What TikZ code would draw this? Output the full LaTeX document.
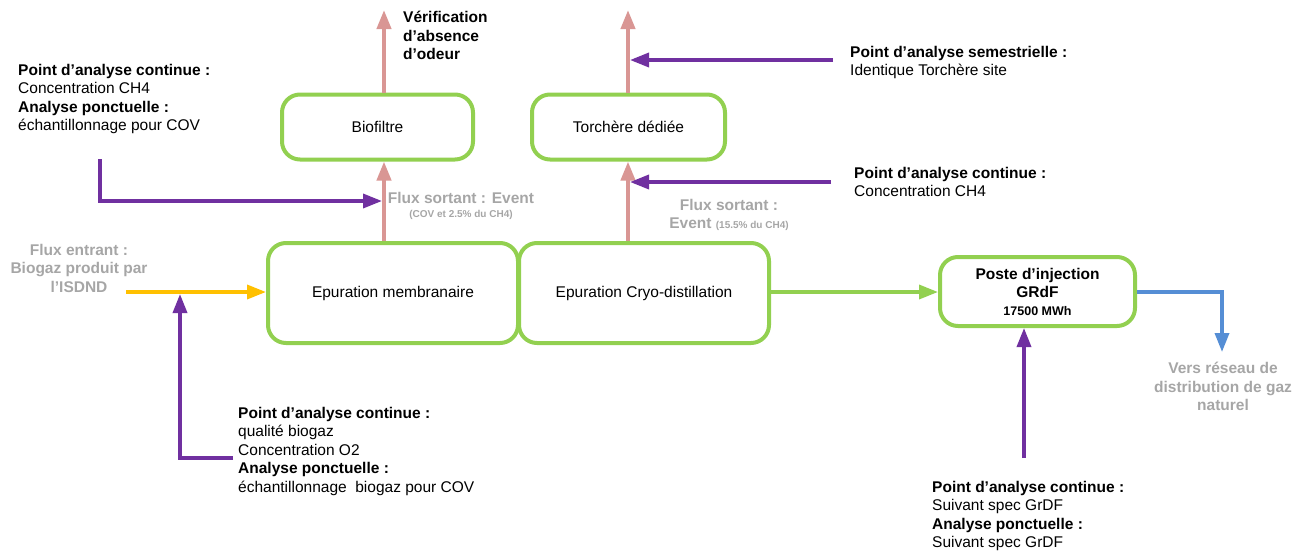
\documentclass[tikz,border=0pt]{standalone}
\usepackage{fontspec}
\setmainfont{Liberation Sans}
\usetikzlibrary{arrows.meta,calc}
\definecolor{grn}{HTML}{92D050}
\definecolor{pnk}{HTML}{D99694}
\definecolor{prp}{HTML}{7030A0}
\definecolor{ylw}{HTML}{FFC000}
\definecolor{blu}{HTML}{558ED5}
\definecolor{gry}{HTML}{A6A6A6}
\newcommand{\fsz}{\fontsize{15.5}{18.5}\selectfont}
\newcommand{\fsm}{\fontsize{10}{12}\selectfont}
\newcommand{\fmid}{\fontsize{12.5}{15}\selectfont}
\begin{document}
\begin{tikzpicture}[x=1pt,y=-1pt,
  box/.style={draw=grn, line width=4pt, rounded corners=18pt, fill=white, inner sep=0pt, align=center, font=\fsz},
  txt/.style={inner sep=0pt, anchor=north west, align=left, font=\fsz},
  gtxt/.style={inner sep=0pt, anchor=north, align=center, font=\fsz\bfseries, text=gry},
  tipa/.style={-{Triangle[length=19pt,width=14pt]}},
  pk/.style={draw=pnk, line width=4pt, tipa},
  pu/.style={draw=prp, line width=3.5pt, tipa},
  yl/.style={draw=ylw, line width=3.5pt, tipa},
  gr/.style={draw=grn, line width=3.5pt, tipa},
  bl/.style={draw=blu, line width=3.5pt, tipa}
]
\useasboundingbox (0,0) rectangle (1309,552);

% boxes
\node[box, minimum width=191pt, minimum height=65pt] (bio) at (377.5,127) {Biofiltre};
\node[box, minimum width=193pt, minimum height=65pt] (torch) at (628.5,127) {Torchère dédiée};
\node[box, minimum width=250pt, minimum height=100pt] (epm) at (393,293) {Epuration membranaire};
\node[box, minimum width=250pt, minimum height=100pt] (epc) at (644,293) {Epuration Cryo-distillation};
\node[box, minimum width=195pt, minimum height=69pt, font=\fsz\bfseries] (poste) at (1037.5,291.5) {Poste d’injection\\GRdF\\[-1pt]{\fmid 17500 MWh}};

% texts
\node[txt] (tl) at (18,64) {\textbf{Point d’analyse continue :}\\Concentration CH4\\\textbf{Analyse ponctuelle :}\\échantillonnage pour COV};
\node[txt, font=\fsz\bfseries] (verif) at (403,11) {Vérification\\d’absence\\d’odeur};
\node[txt] (sem) at (850,46) {\textbf{Point d’analyse semestrielle :}\\Identique Torchère site};
\node[txt] (cont) at (854,167) {\textbf{Point d’analyse continue :}\\Concentration CH4};
\node[gtxt] (fsl) at (461,192) {Flux sortant : Event\\[-4.5pt]{\fsm (COV et 2.5\% du CH4)}};
\node[gtxt] (fsr) at (729,199) {Flux sortant :\\Event {\fsm (15.5\% du CH4)}};
\node[gtxt] (fe) at (79,244) {Flux entrant :\\Biogaz produit par\\l’ISDND};
\node[txt] (bl) at (238,407) {\textbf{Point d’analyse continue :}\\qualité biogaz\\Concentration O2\\\textbf{Analyse ponctuelle :}\\échantillonnage~ biogaz pour COV};
\node[txt] (br) at (932,481) {\textbf{Point d’analyse continue :}\\Suivant spec GrDF\\\textbf{Analyse ponctuelle :}\\Suivant spec GrDF};
\node[gtxt] (vers) at (1223,362) {Vers réseau de\\distribution de gaz\\naturel};

% coordinates
\coordinate (p1) at (384,0);
\coordinate (p2) at (628,0);
\coordinate (t1) at (384,10);
\coordinate (t2) at (628,10);
\coordinate (s1) at (833,60);
\coordinate (s2) at (831,182);
\coordinate (a1) at (100,159);
\coordinate (y0) at (126,292);
\coordinate (b0) at (233,458);
\coordinate (c0) at (1024,458);
\coordinate (v0) at (1222,352);

% pink arrows
\draw[pk] (epm.north -| p1) -- (bio.south -| p1);
\draw[pk] (bio.north -| p1) -- (t1);
\draw[pk] (epc.north -| p2) -- (torch.south -| p2);
\draw[pk] (torch.north -| p2) -- (t2);

% purple arrows
\draw[pu] (s1) -- (s1 -| 630,0);
\draw[pu] (s2) -- (s2 -| 630,0);
\draw[pu] (a1) |- (382,201);
\draw[yl] (y0) -- (y0 -| epm.west);
\draw[pu] (b0) -| (180,294);
\draw[pu] (c0) -- (poste.south -| c0);

% green and blue
\draw[gr] (epc.east |- 0,292) -- (poste.west |- 0,292);
\draw[bl] (poste.east |- 0,292) -| (v0);
\end{tikzpicture}
\end{document}
